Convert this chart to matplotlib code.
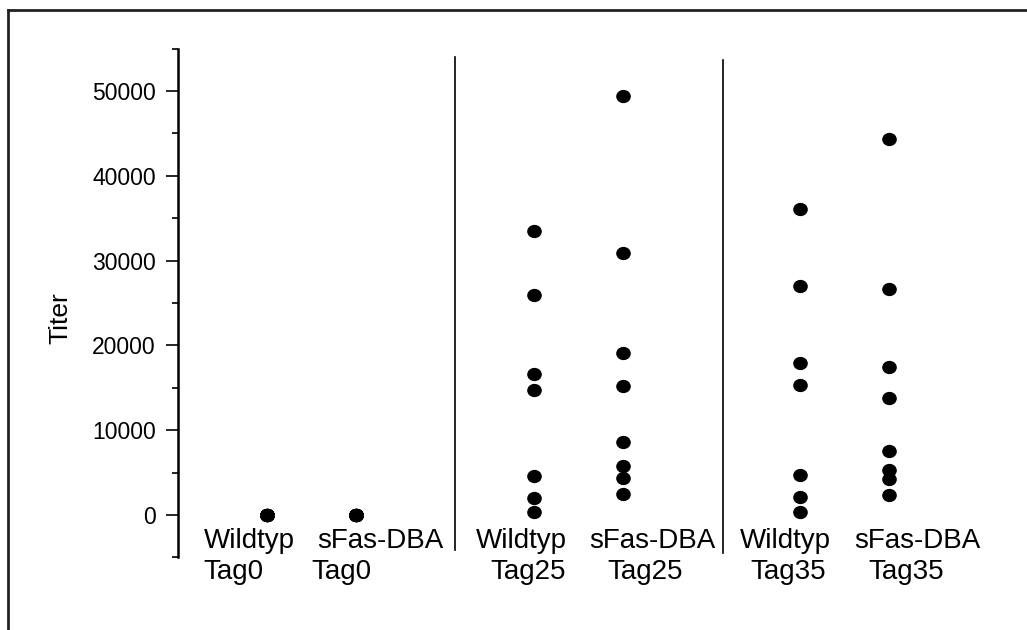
import numpy as np
import matplotlib.pyplot as plt
from matplotlib.path import Path
from matplotlib.transforms import Affine2D
from matplotlib.lines import Line2D

plt.rcParams['font.family'] = ['Liberation Sans', 'DejaVu Sans']

# Data
groups = ['Wildtyp Tag0', 'sFas-DBA Tag0', 'Wildtyp Tag25', 'sFas-DBA Tag25',
          'Wildtyp Tag35', 'sFas-DBA Tag35']
label_top = ['Wildtyp', 'sFas-DBA', 'Wildtyp', 'sFas-DBA', 'Wildtyp', 'sFas-DBA']
label_bottom = ['Tag0', 'Tag0', 'Tag25', 'Tag25', 'Tag35', 'Tag35']

wt_tag0 = [0, 0, 0, 0, 0, 0, 0]
sfas_tag0 = [0, 0, 0, 0, 0, 0, 0, 0]
wt_tag25 = [33500, 26000, 16600, 14800, 4550, 2000, 300]
sfas_tag25 = [49400, 30900, 19050, 15200, 8600, 5750, 4400, 2500]
wt_tag35 = [36100, 27000, 17900, 15300, 4750, 2100, 300]
sfas_tag35 = [44350, 26700, 17500, 13750, 7600, 5300, 4250, 2350]
values = [wt_tag0, sfas_tag0, wt_tag25, sfas_tag25, wt_tag35, sfas_tag35]

# layout
xpos = [1, 2, 4, 5, 7, 8]
top_x = [0.80, 2.28, 3.86, 5.33, 6.83, 8.31]
bot_x = [0.62, 1.84, 3.94, 5.25, 6.86, 8.19]
dividers = [(3.12, -4130, 54000), (6.13, -4480, 53660)]

fig = plt.figure(figsize=(10.27, 6.3), dpi=100)
ax = fig.add_axes([178 / 1027, 0.1152, 827 / 1027, 0.8076])

# dots are a touch wider than tall
dot = Path.unit_circle().transformed(Affine2D().scale(1.0, 0.9))

for x, vals in zip(xpos, values):
    ax.plot([x] * len(vals), vals, linestyle='none', marker=dot,
            markersize=9.5, color='black', clip_on=False)

for x, y0, y1 in dividers:
    ax.plot([x, x], [y0, y1], color='black', lw=1.2, clip_on=False)

for x, t in zip(top_x, label_top):
    ax.text(x, -3900, t, ha='center', va='baseline', fontsize=20, clip_on=False)
for x, t in zip(bot_x, label_bottom):
    ax.text(x, -7550, t, ha='center', va='baseline', fontsize=20, clip_on=False)

ax.set_xlim(0, 9.3)
ax.set_ylim(-5000, 55000)
ax.set_yticks(np.arange(0, 50001, 10000))
ax.set_yticks(np.arange(-5000, 55001, 5000), minor=True)
ax.tick_params(axis='y', which='major', length=8.9, width=1.2, pad=7, labelsize=16.5)
ax.tick_params(axis='y', which='minor', length=4.3, width=1.2)
ax.set_xticks([])
for s in ['top', 'right', 'bottom']:
    ax.spines[s].set_visible(False)
ax.spines['left'].set_linewidth(1.8)
ax.set_ylabel('Titer', fontsize=19)
ax.yaxis.set_label_coords(-0.128, 0.47)

# outer frame (only top and left edges visible)
fig.add_artist(Line2D([8 / 1027, 1], [1 - 10 / 630, 1 - 10 / 630],
                      color='#222222', lw=2, transform=fig.transFigure))
fig.add_artist(Line2D([8 / 1027, 8 / 1027], [0, 1 - 10 / 630],
                      color='#222222', lw=2, transform=fig.transFigure))

plt.savefig('out.png', dpi=100)
plt.close()
